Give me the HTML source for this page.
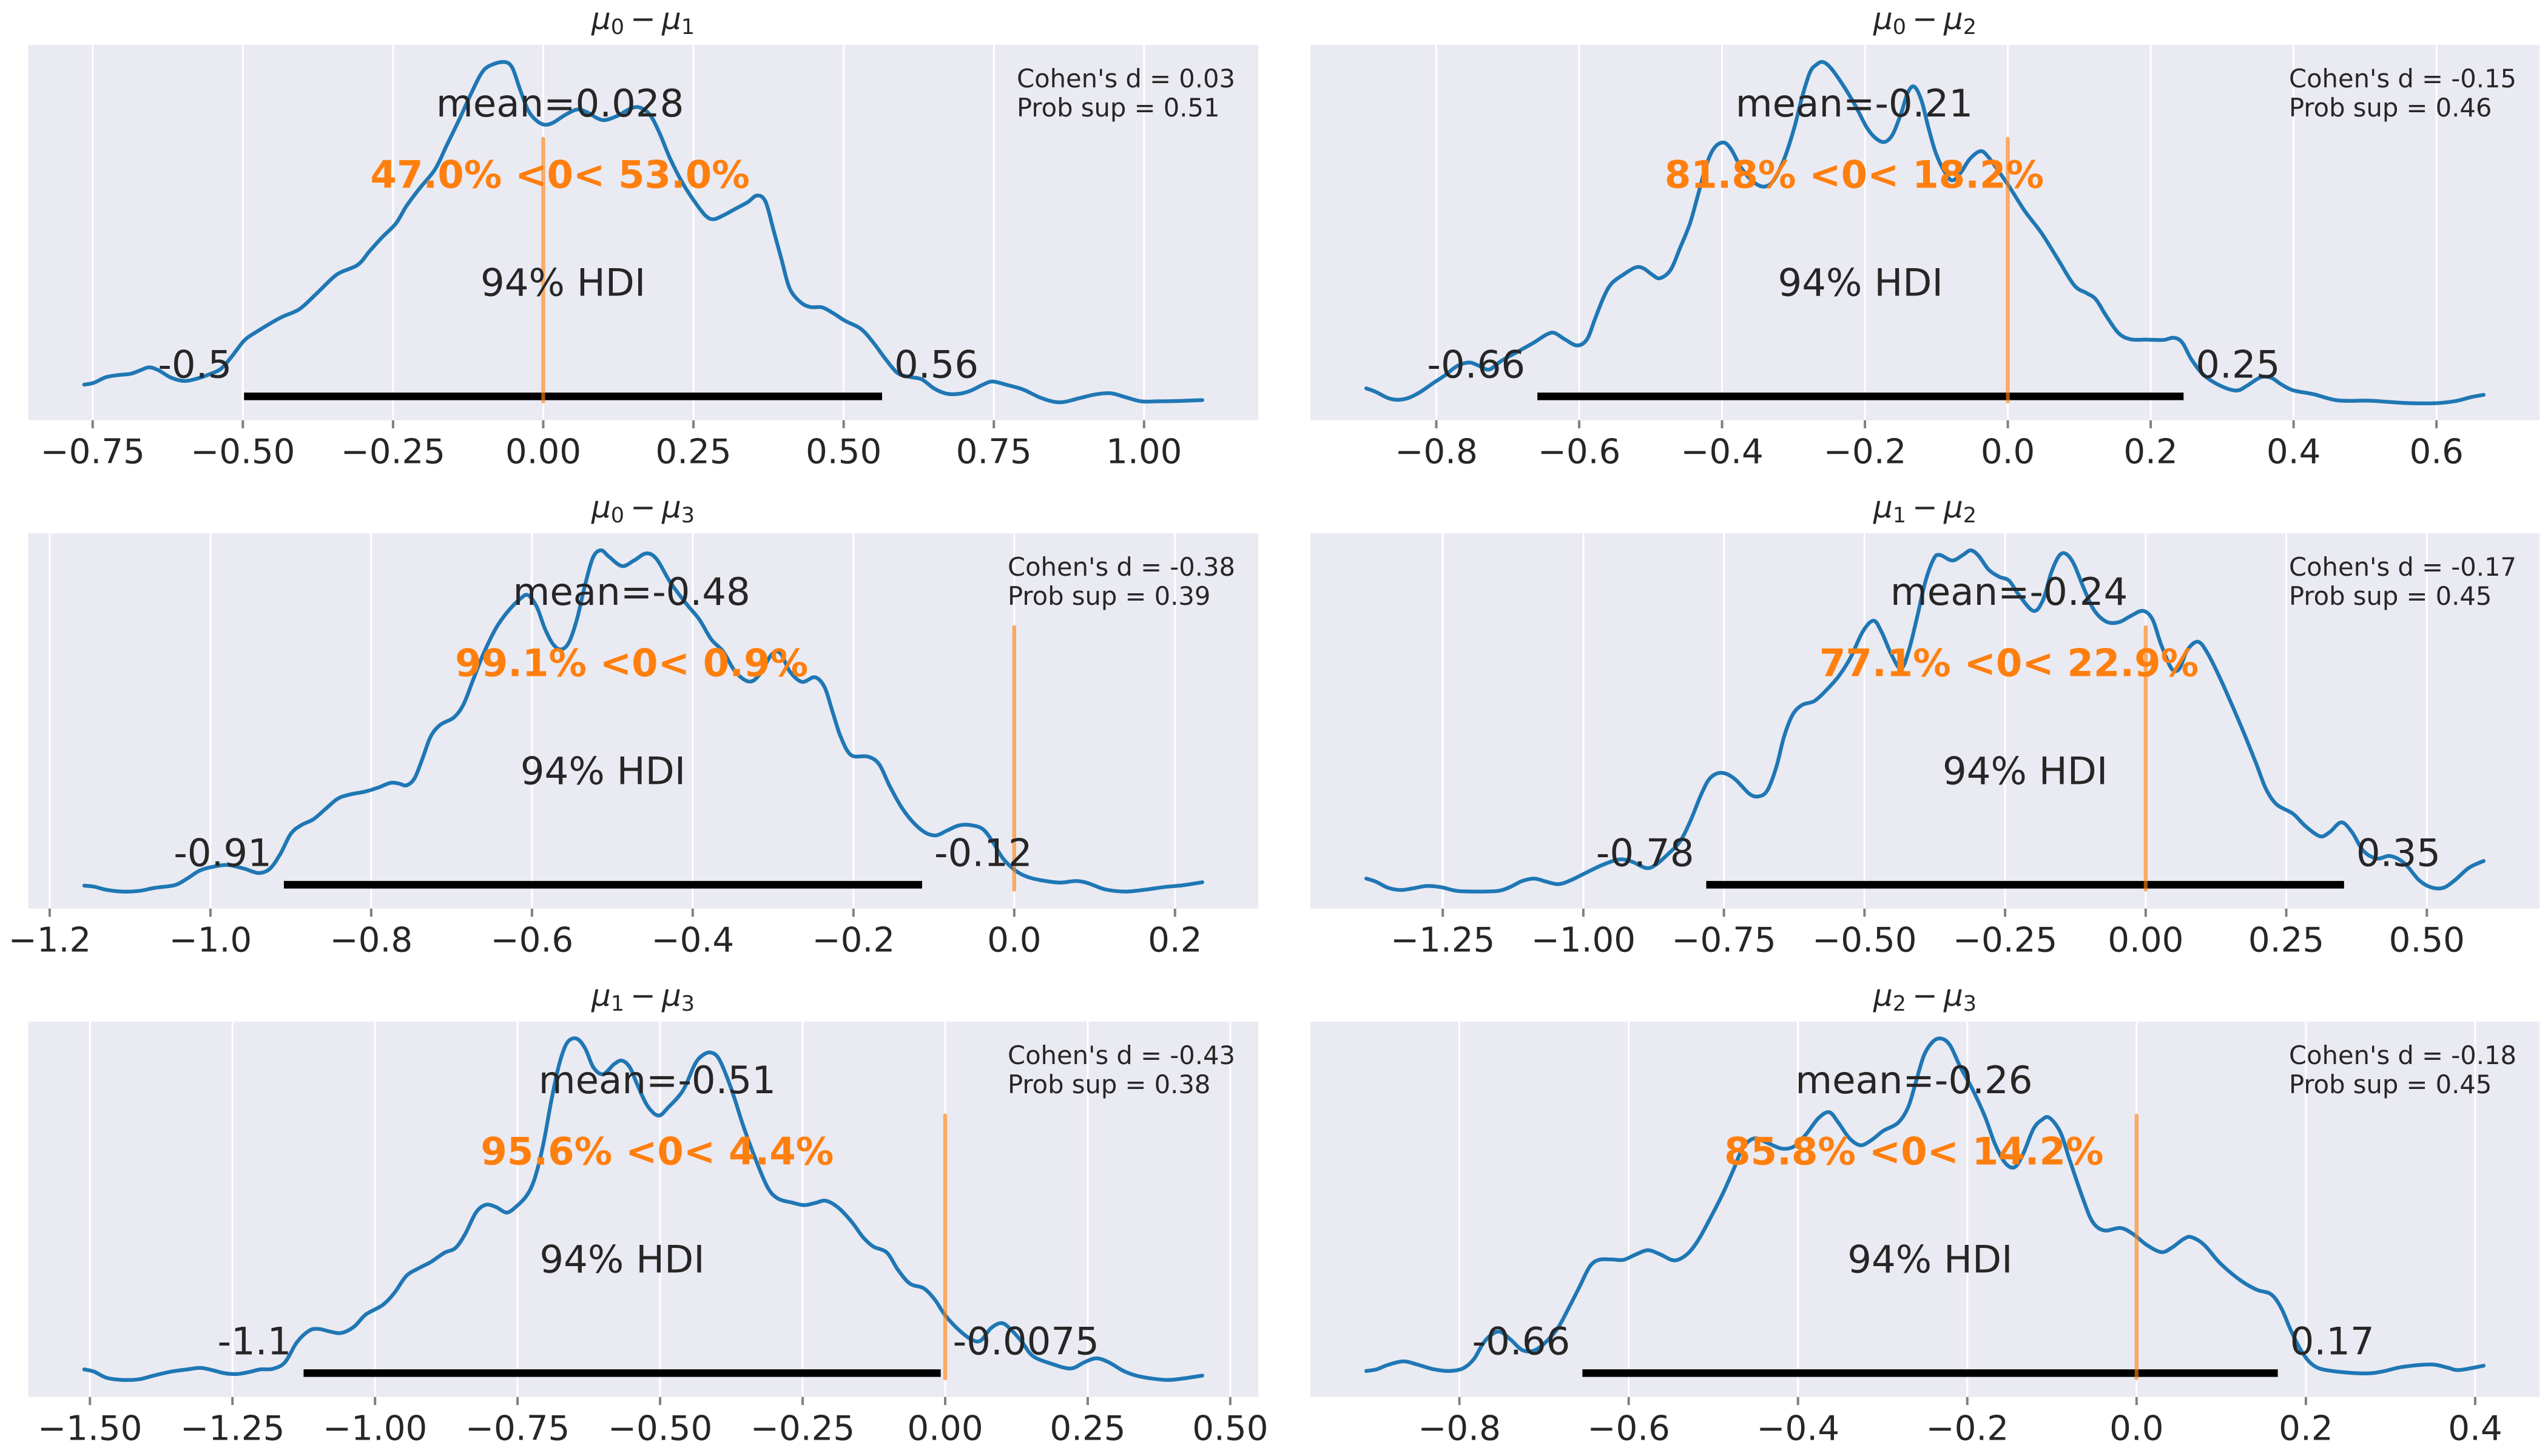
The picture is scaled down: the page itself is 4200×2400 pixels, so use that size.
<!DOCTYPE html>
<html lang="en">
<head>
<meta charset="utf-8">
<title>Posterior differences of means</title>
<style>
html,body{margin:0;padding:0;background:#fff;}
svg{display:block;}
text{font-family:"DejaVu Sans","Liberation Sans",sans-serif;fill:#262626;}
.bg{fill:#eaeaf2;}
.title{font-size:50px;}
.stat{font-size:41.67px;}
.title .mu{font-style:italic;}
.title .sub{font-size:35px;}
.note{font-size:62.5px;text-anchor:middle;}
.pct{font-size:62.5px;font-weight:700;fill:#ff7f0e;text-anchor:middle;}
.hdi-low{font-size:62.5px;text-anchor:end;}
.hdi-high{font-size:62.5px;text-anchor:start;}
.tick-label{font-size:56.25px;text-anchor:middle;}
</style>
</head>
<body>
<svg id="figure" xmlns="http://www.w3.org/2000/svg" width="4200" height="2400" viewBox="0 0 4200 2400">
<rect x="0" y="0" width="4200" height="2400" fill="#ffffff"/>

<g id="panel-0">
  <rect class="bg" x="46.7" y="74" width="2027.3" height="618.7"/>
  <g class="marks"></g>
  <text class="title" x="1060" y="48" text-anchor="middle"><tspan class="mu">μ</tspan><tspan class="sub" dy="8">0</tspan><tspan dy="-8" dx="10">−</tspan><tspan class="mu" dx="10">μ</tspan><tspan class="sub" dy="8">1</tspan></text>
  <text class="note mean">mean=0.028</text>
  <text class="pct">47.0% &lt;0&lt; 53.0%</text>
  <text class="note hdi-name">94% HDI</text>
  <text class="hdi-low">-0.5</text>
  <text class="hdi-high">0.56</text>
  <text class="stat cohen" y="144">Cohen's d = 0.03</text>
  <text class="stat prob" y="192">Prob sup = 0.51</text>
</g>

<g id="panel-1">
  <rect class="bg" x="2160" y="74" width="2026" height="618.7"/>
  <g class="marks"></g>
  <text class="title" x="3173" y="48" text-anchor="middle"><tspan class="mu">μ</tspan><tspan class="sub" dy="8">0</tspan><tspan dy="-8" dx="10">−</tspan><tspan class="mu" dx="10">μ</tspan><tspan class="sub" dy="8">2</tspan></text>
  <text class="note mean">mean=-0.21</text>
  <text class="pct">81.8% &lt;0&lt; 18.2%</text>
  <text class="note hdi-name">94% HDI</text>
  <text class="hdi-low">-0.66</text>
  <text class="hdi-high">0.25</text>
  <text class="stat cohen" y="144">Cohen's d = -0.15</text>
  <text class="stat prob" y="192">Prob sup = 0.46</text>
</g>

<g id="panel-2">
  <rect class="bg" x="46.7" y="879" width="2027.3" height="618.7"/>
  <g class="marks"></g>
  <text class="title" x="1060" y="853" text-anchor="middle"><tspan class="mu">μ</tspan><tspan class="sub" dy="8">0</tspan><tspan dy="-8" dx="10">−</tspan><tspan class="mu" dx="10">μ</tspan><tspan class="sub" dy="8">3</tspan></text>
  <text class="note mean">mean=-0.48</text>
  <text class="pct">99.1% &lt;0&lt; 0.9%</text>
  <text class="note hdi-name">94% HDI</text>
  <text class="hdi-low">-0.91</text>
  <text class="hdi-high">-0.12</text>
  <text class="stat cohen" y="949">Cohen's d = -0.38</text>
  <text class="stat prob" y="997">Prob sup = 0.39</text>
</g>

<g id="panel-3">
  <rect class="bg" x="2160" y="879" width="2026" height="618.7"/>
  <g class="marks"></g>
  <text class="title" x="3173" y="853" text-anchor="middle"><tspan class="mu">μ</tspan><tspan class="sub" dy="8">1</tspan><tspan dy="-8" dx="10">−</tspan><tspan class="mu" dx="10">μ</tspan><tspan class="sub" dy="8">2</tspan></text>
  <text class="note mean">mean=-0.24</text>
  <text class="pct">77.1% &lt;0&lt; 22.9%</text>
  <text class="note hdi-name">94% HDI</text>
  <text class="hdi-low">-0.78</text>
  <text class="hdi-high">0.35</text>
  <text class="stat cohen" y="949">Cohen's d = -0.17</text>
  <text class="stat prob" y="997">Prob sup = 0.45</text>
</g>

<g id="panel-4">
  <rect class="bg" x="46.7" y="1684" width="2027.3" height="618.7"/>
  <g class="marks"></g>
  <text class="title" x="1060" y="1658" text-anchor="middle"><tspan class="mu">μ</tspan><tspan class="sub" dy="8">1</tspan><tspan dy="-8" dx="10">−</tspan><tspan class="mu" dx="10">μ</tspan><tspan class="sub" dy="8">3</tspan></text>
  <text class="note mean">mean=-0.51</text>
  <text class="pct">95.6% &lt;0&lt; 4.4%</text>
  <text class="note hdi-name">94% HDI</text>
  <text class="hdi-low">-1.1</text>
  <text class="hdi-high">-0.0075</text>
  <text class="stat cohen" y="1754">Cohen's d = -0.43</text>
  <text class="stat prob" y="1802">Prob sup = 0.38</text>
</g>

<g id="panel-5">
  <rect class="bg" x="2160" y="1684" width="2026" height="618.7"/>
  <g class="marks"></g>
  <text class="title" x="3173" y="1658" text-anchor="middle"><tspan class="mu">μ</tspan><tspan class="sub" dy="8">2</tspan><tspan dy="-8" dx="10">−</tspan><tspan class="mu" dx="10">μ</tspan><tspan class="sub" dy="8">3</tspan></text>
  <text class="note mean">mean=-0.26</text>
  <text class="pct">85.8% &lt;0&lt; 14.2%</text>
  <text class="note hdi-name">94% HDI</text>
  <text class="hdi-low">-0.66</text>
  <text class="hdi-high">0.17</text>
  <text class="stat cohen" y="1754">Cohen's d = -0.18</text>
  <text class="stat prob" y="1802">Prob sup = 0.45</text>
</g>
</svg>

<script>
// Panel 0: mu0 - mu1
const kdeX0 = [-0.764,-0.748,-0.728,-0.707,-0.687,-0.671,-0.656,-0.640,-0.620,-0.599,-0.579,-0.555,-0.536,-0.518,-0.498,-0.478,-0.437,-0.406,-0.376,-0.343,-0.309,-0.289,-0.268,-0.245,-0.228,-0.207,-0.180,-0.160,-0.140,-0.120,-0.103,-0.089,-0.066,-0.052,-0.039,-0.025,-0.011,0.002,0.016,0.036,0.056,0.072,0.090,0.103,0.124,0.144,0.160,0.178,0.194,0.211,0.232,0.252,0.270,0.283,0.299,0.320,0.340,0.356,0.370,0.383,0.397,0.410,0.428,0.445,0.464,0.482,0.502,0.529,0.549,0.570,0.590,0.610,0.630,0.651,0.671,0.691,0.711,0.732,0.748,0.772,0.799,0.826,0.849,0.867,0.894,0.921,0.945,0.968,0.995,1.022,1.056,1.097];
const kdeY0 = [60,66,84,91,95,106,116,106,83,72,78,94,112,152,202,230,277,304,357,417,447,492,537,582,637,692,757,837,917,1002,1067,1092,1104,1087,1017,947,914,901,907,932,950,942,922,916,930,952,957,932,872,792,712,652,607,595,607,629,650,672,652,562,462,372,327,311,310,292,267,240,197,142,97,85,77,47,31,30,40,60,70,59,44,19,5,4,17,29,32,20,6,6,7,10];
const ticks0 = [-0.75,-0.5,-0.25,0,0.25,0.5,0.75,1];
const tickLabels0 = ["−0.75","−0.50","−0.25","0.00","0.25","0.50","0.75","1.00"];
const hdi0 = [-0.498,0.564];
const mean0 = 0.028;

// Panel 1: mu0 - mu2
const kdeX1 = [-0.898,-0.885,-0.868,-0.854,-0.839,-0.822,-0.805,-0.788,-0.771,-0.754,-0.741,-0.726,-0.709,-0.686,-0.663,-0.646,-0.635,-0.620,-0.603,-0.589,-0.578,-0.566,-0.555,-0.538,-0.521,-0.510,-0.498,-0.487,-0.472,-0.459,-0.445,-0.434,-0.422,-0.411,-0.398,-0.387,-0.373,-0.356,-0.341,-0.328,-0.313,-0.299,-0.288,-0.277,-0.268,-0.259,-0.248,-0.231,-0.214,-0.197,-0.184,-0.172,-0.161,-0.149,-0.140,-0.131,-0.121,-0.111,-0.101,-0.089,-0.078,-0.066,-0.053,-0.038,-0.027,-0.013,0.002,0.024,0.047,0.070,0.093,0.110,0.123,0.138,0.155,0.172,0.195,0.218,0.232,0.244,0.257,0.274,0.297,0.320,0.335,0.354,0.369,0.382,0.399,0.428,0.462,0.507,0.553,0.598,0.627,0.649,0.666];
const kdeY1 = [48,37,17,11,17,37,64,90,120,132,122,109,137,167,197,222,228,207,187,207,272,342,387,417,440,437,417,405,432,502,582,672,772,827,845,822,762,717,702,722,792,892,992,1072,1097,1106,1087,1032,967,892,857,847,872,942,1007,1026,982,892,812,752,722,747,792,817,797,752,702,622,552,467,382,357,337,282,227,207,206,205,212,197,142,92,57,41,57,84,82,62,42,29,9,8,1,0,7,20,27];
const ticks1 = [-0.8,-0.6,-0.4,-0.2,0,0.2,0.4,0.6];
const tickLabels1 = ["−0.8","−0.6","−0.4","−0.2","0.0","0.2","0.4","0.6"];
const hdi1 = [-0.6585,0.246];
const mean1 = -0.215;

// Panel 2: mu0 - mu3
const kdeX2 = [-1.157,-1.145,-1.130,-1.110,-1.089,-1.069,-1.044,-1.029,-1.014,-0.999,-0.979,-0.958,-0.940,-0.926,-0.913,-0.900,-0.887,-0.872,-0.857,-0.842,-0.827,-0.807,-0.791,-0.776,-0.766,-0.756,-0.746,-0.736,-0.726,-0.714,-0.697,-0.685,-0.673,-0.660,-0.645,-0.630,-0.615,-0.605,-0.594,-0.584,-0.574,-0.564,-0.554,-0.544,-0.534,-0.524,-0.514,-0.504,-0.488,-0.473,-0.458,-0.445,-0.428,-0.408,-0.392,-0.377,-0.362,-0.347,-0.330,-0.317,-0.302,-0.291,-0.279,-0.264,-0.248,-0.236,-0.226,-0.216,-0.203,-0.182,-0.168,-0.155,-0.140,-0.125,-0.110,-0.097,-0.084,-0.069,-0.054,-0.039,-0.027,-0.014,0.002,0.017,0.037,0.057,0.077,0.092,0.113,0.138,0.163,0.188,0.209,0.234];
const kdeY2 = [19,16,6,0,2,12,21,42,67,79,86,74,60,74,122,187,215,234,267,300,314,324,337,352,350,344,367,432,502,540,564,607,687,772,852,907,947,960,922,852,802,784,807,882,992,1082,1105,1084,1054,1072,1095,1077,1002,932,882,817,777,712,680,702,767,772,712,679,694,662,582,502,442,437,412,342,272,222,190,182,197,214,215,202,162,107,67,47,35,29,34,27,7,0,6,15,20,30];
const ticks2 = [-1.2,-1,-0.8,-0.6,-0.4,-0.2,0,0.2];
const tickLabels2 = ["−1.2","−1.0","−0.8","−0.6","−0.4","−0.2","0.0","0.2"];
const hdi2 = [-0.9086,-0.1146];
const mean2 = -0.476;

// Panel 3: mu1 - mu2
const kdeX3 = [-1.386,-1.369,-1.347,-1.325,-1.304,-1.278,-1.253,-1.224,-1.188,-1.152,-1.131,-1.109,-1.087,-1.066,-1.044,-1.022,-0.994,-0.965,-0.936,-0.914,-0.888,-0.871,-0.849,-0.828,-0.810,-0.791,-0.777,-0.763,-0.747,-0.729,-0.705,-0.689,-0.673,-0.657,-0.643,-0.628,-0.611,-0.589,-0.568,-0.546,-0.525,-0.503,-0.484,-0.470,-0.452,-0.435,-0.421,-0.406,-0.392,-0.377,-0.366,-0.344,-0.325,-0.311,-0.297,-0.279,-0.260,-0.243,-0.226,-0.200,-0.183,-0.168,-0.154,-0.142,-0.128,-0.110,-0.092,-0.070,-0.048,-0.027,-0.005,0.012,0.027,0.046,0.060,0.074,0.093,0.110,0.132,0.154,0.175,0.197,0.214,0.233,0.262,0.284,0.310,0.327,0.348,0.367,0.387,0.411,0.435,0.460,0.486,0.507,0.529,0.550,0.575,0.601];
const kdeY3 = [42,32,12,5,10,18,14,2,0,2,14,34,42,32,24,37,62,87,104,97,76,87,122,162,227,312,362,382,382,362,317,308,327,402,502,572,604,617,652,697,757,842,877,842,767,722,782,892,1002,1077,1090,1072,1090,1105,1087,1042,1019,1007,962,909,942,1032,1087,1094,1062,982,912,874,872,892,909,882,802,722,722,782,809,772,692,602,512,412,332,282,252,212,179,192,224,192,132,107,115,92,37,14,12,37,77,99];
const ticks3 = [-1.25,-1,-0.75,-0.5,-0.25,0,0.25,0.5];
const tickLabels3 = ["−1.25","−1.00","−0.75","−0.50","−0.25","0.00","0.25","0.50"];
const hdi3 = [-0.7814,0.3528];
const mean3 = -0.243;

// Panel 4: mu1 - mu3
const kdeX4 = [-1.510,-1.493,-1.471,-1.443,-1.414,-1.386,-1.357,-1.329,-1.307,-1.286,-1.265,-1.243,-1.222,-1.201,-1.179,-1.158,-1.137,-1.115,-1.098,-1.080,-1.059,-1.037,-1.016,-0.987,-0.966,-0.945,-0.923,-0.902,-0.878,-0.859,-0.842,-0.823,-0.806,-0.788,-0.769,-0.752,-0.734,-0.720,-0.705,-0.691,-0.677,-0.663,-0.646,-0.631,-0.617,-0.600,-0.581,-0.567,-0.553,-0.539,-0.522,-0.503,-0.486,-0.460,-0.439,-0.425,-0.411,-0.396,-0.375,-0.354,-0.332,-0.311,-0.293,-0.268,-0.247,-0.226,-0.209,-0.187,-0.164,-0.144,-0.126,-0.102,-0.083,-0.062,-0.038,-0.019,-0.001,0.021,0.045,0.062,0.080,0.099,0.116,0.135,0.154,0.187,0.220,0.244,0.265,0.287,0.315,0.344,0.387,0.415,0.451];
const kdeY4 = [34,27,7,0,2,15,27,34,39,32,22,19,25,34,36,57,122,160,165,157,152,172,212,242,282,337,362,382,412,427,472,542,567,560,542,562,597,652,762,902,1022,1092,1105,1072,1012,990,1022,1034,1012,952,887,856,882,937,1022,1052,1060,1037,942,822,712,622,587,574,566,574,580,557,512,462,432,412,357,312,297,262,212,167,132,127,167,184,162,122,77,52,37,57,70,57,27,10,0,4,14];
const ticks4 = [-1.5,-1.25,-1,-0.75,-0.5,-0.25,0,0.25,0.5];
const tickLabels4 = ["−1.50","−1.25","−1.00","−0.75","−0.50","−0.25","0.00","0.25","0.50"];
const hdi4 = [-1.1253,-0.0078];
const mean4 = -0.505;

// Panel 5: mu2 - mu3
const kdeX5 = [-0.910,-0.898,-0.884,-0.866,-0.850,-0.831,-0.812,-0.796,-0.783,-0.771,-0.759,-0.750,-0.738,-0.726,-0.713,-0.700,-0.684,-0.671,-0.658,-0.646,-0.635,-0.620,-0.606,-0.591,-0.577,-0.563,-0.546,-0.531,-0.518,-0.502,-0.489,-0.476,-0.465,-0.452,-0.438,-0.419,-0.404,-0.390,-0.376,-0.363,-0.352,-0.339,-0.326,-0.313,-0.299,-0.282,-0.270,-0.261,-0.251,-0.240,-0.230,-0.220,-0.208,-0.194,-0.179,-0.167,-0.155,-0.144,-0.134,-0.122,-0.112,-0.103,-0.090,-0.079,-0.064,-0.052,-0.038,-0.019,-0.004,0.012,0.029,0.041,0.056,0.065,0.080,0.099,0.123,0.142,0.159,0.171,0.182,0.195,0.209,0.228,0.268,0.290,0.314,0.348,0.367,0.381,0.410];
const kdeY5 = [29,34,49,60,50,35,29,37,67,122,152,154,127,97,94,117,167,232,302,367,389,390,389,407,420,407,387,407,452,532,602,682,752,782,770,749,757,797,847,867,832,782,760,777,807,832,882,962,1052,1097,1105,1082,1012,942,852,762,702,689,732,812,842,849,802,712,592,512,484,492,472,437,414,427,457,462,437,377,322,292,277,232,162,92,47,30,21,27,42,50,40,32,46];
const ticks5 = [-0.8,-0.6,-0.4,-0.2,0,0.2,0.4];
const tickLabels5 = ["−0.8","−0.6","−0.4","−0.2","0.0","0.2","0.4"];
const hdi5 = [-0.6547,0.1668];
const mean5 = -0.263;

const allKdeX = [kdeX0,kdeX1,kdeX2,kdeX3,kdeX4,kdeX5];
const allKdeY = [kdeY0,kdeY1,kdeY2,kdeY3,kdeY4,kdeY5];
const allTicks = [ticks0,ticks1,ticks2,ticks3,ticks4,ticks5];
const allTickLabels = [tickLabels0,tickLabels1,tickLabels2,tickLabels3,tickLabels4,tickLabels5];
const allHdi = [hdi0,hdi1,hdi2,hdi3,hdi4,hdi5];
const allMeans = [mean0,mean1,mean2,mean3,mean4,mean5];
const referenceValue = 0;

const SVGNS = "http://www.w3.org/2000/svg";

function svgEl(tag, attrs, parent) {
  const el = document.createElementNS(SVGNS, tag);
  for (const k in attrs) el.setAttribute(k, attrs[k]);
  parent.appendChild(el);
  return el;
}

function smoothPath(xs, ys) {
  let d = "M" + xs[0].toFixed(2) + " " + ys[0].toFixed(2);
  for (let i = 0; i < xs.length - 1; i++) {
    const i0 = Math.max(i - 1, 0), i3 = Math.min(i + 2, xs.length - 1);
    const c1x = xs[i] + (xs[i + 1] - xs[i0]) / 6;
    const c1y = ys[i] + (ys[i + 1] - ys[i0]) / 6;
    const c2x = xs[i + 1] - (xs[i3] - xs[i]) / 6;
    const c2y = ys[i + 1] - (ys[i3] - ys[i]) / 6;
    d += "C" + c1x.toFixed(2) + " " + c1y.toFixed(2) + " " + c2x.toFixed(2) + " " + c2y.toFixed(2) + " " + xs[i + 1].toFixed(2) + " " + ys[i + 1].toFixed(2);
  }
  return d;
}

function drawPanel(index) {
  const panel = document.getElementById("panel-" + index);
  const rect = panel.querySelector("rect.bg");
  const left = parseFloat(rect.getAttribute("x"));
  const top = parseFloat(rect.getAttribute("y"));
  const width = parseFloat(rect.getAttribute("width"));
  const height = parseFloat(rect.getAttribute("height"));
  const bottom = top + height;
  const right = left + width;
  const marks = panel.querySelector("g.marks");

  const xData = allKdeX[index];
  const yData = allKdeY[index];
  const xLo = Math.min.apply(null, xData), xHi = Math.max.apply(null, xData);
  const xPad = (xHi - xLo) * 0.05;
  const yPeak = Math.max.apply(null, yData);
  const xAxis = v => left + (v - (xLo - xPad)) / ((xHi + xPad) - (xLo - xPad)) * width;
  const yAxis = v => bottom - (v + 0.05 * yPeak) / (1.1 * yPeak) * height;

  allTicks[index].forEach((tick, i) => {
    const px = xAxis(tick);
    const grid = svgEl("line", {x1: px, x2: px, y1: top, y2: bottom, stroke: "#ffffff", "stroke-width": 3}, marks);
    
    
    const mark = svgEl("line", {x1: px, x2: px, y1: bottom, y2: bottom + 13.3, stroke: "#808080", "stroke-width": 4}, panel);
    
    
    const label = svgEl("text", {"class": "tick-label", x: px, y: bottom + 71}, panel);
    label.textContent = allTickLabels[index][i];
    
    
  });

  const curve = svgEl("path", {
    d: smoothPath(xData.map(xAxis), yData.map(yAxis)),
    fill: "none", stroke: "#1f77b4", "stroke-width": 6.25,
    "stroke-linecap": "round", "stroke-linejoin": "round"
  }, marks);
  
  

  const hdi = allHdi[index];
  const bar = svgEl("line", {
    x1: xAxis(hdi[0]), x2: xAxis(hdi[1]), y1: yAxis(yPeak * 0.02), y2: yAxis(yPeak * 0.02),
    stroke: "#000000", "stroke-width": 12.5
  }, marks);
  
  

  const refPx = xAxis(referenceValue);
  const ref = svgEl("line", {
    x1: refPx, x2: refPx, y1: yAxis(yPeak * 0.005), y2: yAxis(yPeak * 0.775),
    stroke: "#ff7f0e", "stroke-opacity": 0.65, "stroke-width": 6.25, "stroke-linecap": "round"
  }, marks);
  
  

  const meanPx = xAxis(allMeans[index]);
  const place = (sel, x, y) => {
    const t = panel.querySelector(sel);
    t.setAttribute("x", x);
    t.setAttribute("y", y);
  };
  place("text.mean", meanPx, yAxis(yPeak * 0.84));
  place("text.pct", meanPx, yAxis(yPeak * 0.631));
  place("text.hdi-name", xAxis((hdi[0] + hdi[1]) / 2), yAxis(yPeak * 0.315));
  place("text.hdi-low", xAxis(hdi[0]) - 20, yAxis(yPeak * 0.0745));
  place("text.hdi-high", xAxis(hdi[1]) + 20, yAxis(yPeak * 0.0745));

  const cohen = panel.querySelector("text.cohen");
  const prob = panel.querySelector("text.prob");
  const blockWidth = Math.max(cohen.getComputedTextLength(), prob.getComputedTextLength());
  cohen.setAttribute("x", right - 38 - blockWidth);
  prob.setAttribute("x", right - 38 - blockWidth);
}

for (let p = 0; p < 6; p++) drawPanel(p);
</script>
</body>
</html>
